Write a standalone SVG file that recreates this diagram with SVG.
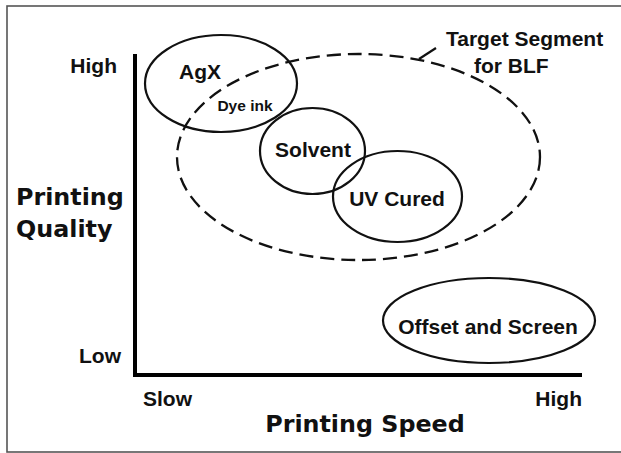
<svg xmlns="http://www.w3.org/2000/svg" width="621" height="453" viewBox="0 0 621 453">
<style>
.lbl{font-family:"Liberation Sans",Arial,sans-serif;font-weight:bold;font-size:21px;fill:#111}
.small{font-size:15.5px}
.title{font-family:"DejaVu Sans",Verdana,sans-serif;font-weight:bold;font-size:23.8px;fill:#111}
.ell{fill:none;stroke:#111;stroke-width:2.2}
.dash{fill:none;stroke:#111;stroke-width:2.3;stroke-dasharray:14 7}
.axis{stroke:#000;stroke-width:4;fill:none}
</style>
<rect x="0" y="0" width="621" height="453" fill="#fff"/>
<rect id="frame" x="7" y="6" width="620" height="446" fill="none" stroke="#555" stroke-width="1.6"/>
<g id="axes">
<path class="axis" d="M135,54 V375 H582"/>
<text class="lbl" x="117" y="73" text-anchor="end">High</text>
<text class="lbl" x="121" y="363" text-anchor="end">Low</text>
<text class="lbl" x="143" y="406">Slow</text>
<text class="lbl" x="582" y="406" text-anchor="end">High</text>
<text class="title" x="16" y="205">Printing</text>
<text class="title" x="16" y="237">Quality</text>
<text class="title" x="365" y="432" text-anchor="middle">Printing Speed</text>
</g>
<g id="target">
<ellipse class="dash" cx="358.5" cy="157" rx="181.5" ry="103"/>
<text class="lbl" x="446" y="46">Target Segment</text>
<text class="lbl" x="474" y="73">for BLF</text>
</g>
<g id="agx">
<ellipse class="ell" cx="221" cy="83.5" rx="76" ry="48.5"/>
<text class="lbl" x="200" y="79" text-anchor="middle">AgX</text>
<text class="lbl small" x="245" y="111" text-anchor="middle">Dye ink</text>
</g>
<g id="solvent">
<ellipse class="ell" cx="312.5" cy="151" rx="52.5" ry="43"/>
<text class="lbl" x="313" y="157" text-anchor="middle">Solvent</text>
</g>
<g id="uvcured">
<ellipse class="ell" cx="397.5" cy="196.5" rx="64.5" ry="45.5"/>
<text class="lbl" x="397" y="206" text-anchor="middle">UV Cured</text>
</g>
<g id="offset">
<ellipse class="ell" cx="489" cy="320.5" rx="106" ry="42.5"/>
<text class="lbl" x="488" y="334" text-anchor="middle">Offset and Screen</text>
</g>
<g id="connectors">
<line x1="419" y1="59" x2="436" y2="48" stroke="#111" stroke-width="2.2"/>
</g>
</svg>
